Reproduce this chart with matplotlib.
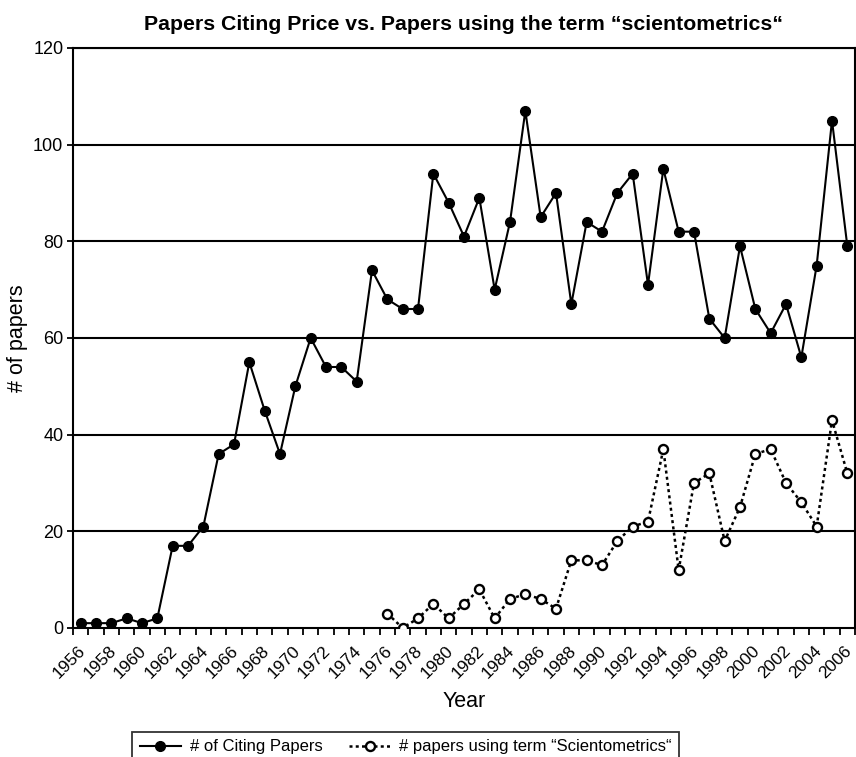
import numpy as np
import matplotlib
matplotlib.use("Agg")
import matplotlib.pyplot as plt
from matplotlib.transforms import ScaledTranslation

plt.rcParams['font.family'] = ['Liberation Sans', 'DejaVu Sans']

## letnice in podatki
years = list(range(1956, 2007))
citing = [1, 1, 1, 2, 1, 2, 17, 17, 21, 36, 38, 55, 45, 36, 50, 60, 54, 54, 51, 74,
          68, 66, 66, 94, 88, 81, 89, 70, 84, 107, 85, 90, 67, 84, 82, 90, 94, 71, 95,
          82, 82, 64, 60, 79, 66, 61, 67, 56, 75, 105, 79]
sci_years = list(range(1976, 2007))
sci = [3, 0, 2, 5, 2, 5, 8, 2, 6, 7, 6, 4, 14, 14, 13, 18, 21, 22, 37, 12, 30, 32,
       18, 25, 36, 37, 30, 26, 21, 43, 32]
yticks = [0, 20, 40, 60, 80, 100, 120]
label_years = list(range(1956, 2007, 2))

fig = plt.figure(figsize=(8.56, 7.57), dpi=100)
ax = fig.add_axes([73/856, 1-628/757, (855-73)/856, (628-48)/757])

for y in yticks[1:]:
    ax.axhline(y, color='black', lw=1.5, zorder=1)

ax.plot(years, citing, color='black', lw=1.5, marker='o', ms=7,
        mfc='black', mec='black', label='# of Citing Papers', zorder=3)
ax.plot(sci_years, sci, color='black', lw=1.8, ls=(0, (1.2, 1.3)), marker='o', ms=6.5,
        mfc='white', mec='black', mew=1.7,
        label='# papers using term \u201cScientometrics\u201c', zorder=3)

ax.set_xlim(1955.5, 2006.5)
ax.set_ylim(0, 120)
ax.set_yticks(yticks)
ax.tick_params(axis='y', labelsize=13, length=4, width=1.3, direction='out', pad=3)

## tick crtice med leti, napisi na sodih letih
ax.set_xticks(np.arange(1955.5, 2007, 1.0))
ax.set_xticklabels([])
ax.tick_params(axis='x', which='major', length=5, width=1.3, direction='out')
ax.set_xticks(label_years, minor=True)
ax.set_xticklabels([str(y) for y in label_years], minor=True, rotation=45,
                   ha='right', va='top', rotation_mode='anchor', fontsize=12.5)
ax.tick_params(axis='x', which='minor', length=0, pad=11)
shift = ScaledTranslation(-3/100, 0, fig.dpi_scale_trans)
for lab in ax.get_xticklabels(minor=True):
    lab.set_transform(lab.get_transform() + shift)

for s in ax.spines.values():
    s.set_linewidth(1.5)
    s.set_color('black')

ax.set_xlabel('Year', fontsize=15.5)
ax.xaxis.set_label_coords(0.5, -(691-628)/580)
ax.set_ylabel('# of papers', fontsize=15.5)
ax.yaxis.set_label_coords(-(73-28)/782, 0.5)
ax.set_title('Papers Citing Price vs. Papers using the term \u201cscientometrics\u201c',
             fontsize=15.3, fontweight='bold', pad=13)

leg = fig.legend(loc='upper left', bbox_to_anchor=(132/856, 1-732/757), ncol=2,
                 fontsize=12, frameon=True, fancybox=False, edgecolor='black',
                 handlelength=2.5, columnspacing=1.6, borderpad=0.45,
                 borderaxespad=0, handletextpad=0.5)
leg.get_frame().set_linewidth(1.3)

plt.savefig('out.png', dpi=100)
